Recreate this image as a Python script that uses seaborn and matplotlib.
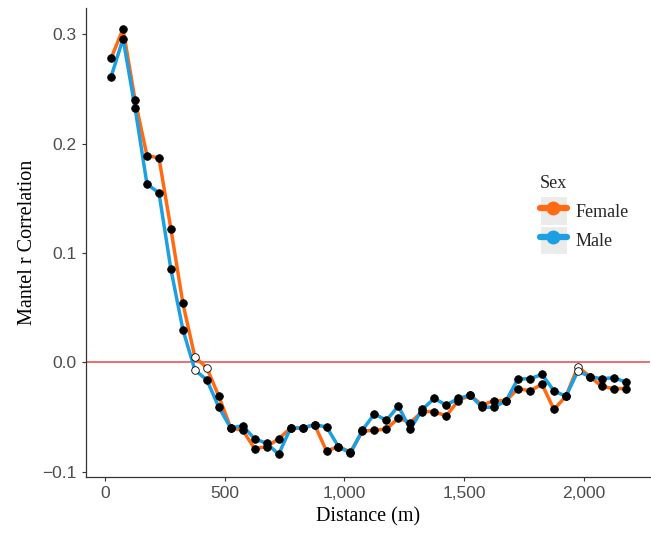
import matplotlib
matplotlib.use("Agg")
import matplotlib.pyplot as plt
import matplotlib.ticker as mticker
from matplotlib.legend_handler import HandlerLine2D
from matplotlib.lines import Line2D
from matplotlib.patches import Rectangle
import pandas as pd
import seaborn as sns

# Mantel correlogram values
distance = [25, 75, 125, 175, 225, 275, 325, 375, 425, 475, 525, 575, 625, 675, 725,
            775, 825, 875, 925, 975, 1025, 1075, 1125, 1175, 1225, 1275, 1325, 1375,
            1425, 1475, 1525, 1575, 1625, 1675, 1725, 1775, 1825, 1875, 1925, 1975,
            2025, 2075, 2125, 2175]
female_r = [0.278, 0.305, 0.240, 0.189, 0.187, 0.122, 0.054, 0.005, -0.005, -0.031,
            -0.060, -0.062, -0.079, -0.077, -0.070, -0.060, -0.060, -0.057, -0.081,
            -0.077, -0.082, -0.063, -0.062, -0.061, -0.051, -0.055, -0.045, -0.045,
            -0.049, -0.035, -0.030, -0.039, -0.035, -0.035, -0.024, -0.026, -0.020,
            -0.043, -0.031, -0.004, -0.013, -0.022, -0.024, -0.024]
male_r = [0.261, 0.296, 0.233, 0.163, 0.155, 0.085, 0.030, -0.007, -0.016, -0.041,
          -0.060, -0.058, -0.070, -0.074, -0.084, -0.060, -0.060, -0.057, -0.059,
          -0.077, -0.083, -0.062, -0.047, -0.053, -0.040, -0.061, -0.043, -0.033,
          -0.039, -0.033, -0.030, -0.041, -0.041, -0.035, -0.015, -0.015, -0.011,
          -0.026, -0.031, -0.008, -0.013, -0.015, -0.014, -0.018]
# distances where the Mantel r was not significant (open points)
female_ns = [375, 425, 1975]
male_ns = [375, 1975]

sex_colors = {"Female": "#FF6A13", "Male": "#1C9FE3"}

df = pd.concat([
    pd.DataFrame({"distance": distance, "r": female_r, "sex": "Female",
                  "sig": [d not in female_ns for d in distance]}),
    pd.DataFrame({"distance": distance, "r": male_r, "sex": "Male",
                  "sig": [d not in male_ns for d in distance]}),
], ignore_index=True)

sns.set_theme(style="ticks")
plt.rcParams["font.family"] = ["Liberation Sans", "DejaVu Sans"]

fig = plt.figure(figsize=(6.51, 5.35), dpi=100)
ax = fig.add_axes([0.132, 0.108, 0.866, 0.877])

ax.axhline(0, color="#E8474A", lw=1.1, zorder=1.5)
sns.lineplot(data=df, x="distance", y="r", hue="sex", hue_order=["Female", "Male"],
             palette=sex_colors, lw=2.5, legend=False, ax=ax, zorder=2)
for sig, face in [(True, "black"), (False, "white")]:
    sub = df[df["sig"] == sig]
    sns.scatterplot(data=sub, x="distance", y="r", color=face, edgecolor="black",
                    linewidth=0.6, s=30, legend=False, ax=ax, zorder=3)

ax.set_xlim(-80, 2275)
ax.set_ylim(-0.105, 0.324)
ax.set_xticks([0, 500, 1000, 1500, 2000])
ax.set_yticks([-0.1, 0.0, 0.1, 0.2, 0.3])
ax.xaxis.set_major_formatter(mticker.FuncFormatter(lambda v, p: f"{v:,.0f}"))
ax.yaxis.set_major_formatter(mticker.FuncFormatter(lambda v, p: f"{v:.1f}".replace("-", "\u2212")))
ax.tick_params(labelsize=12.5, colors="#333333", labelcolor="#4D4D4D", length=3, width=0.8)
for side in ["top", "right"]:
    ax.spines[side].set_visible(False)
for side in ["left", "bottom"]:
    ax.spines[side].set_color("#333333")
    ax.spines[side].set_linewidth(0.9)

ax.set_xlabel("Distance (m)", family=["Liberation Serif"], fontsize=14.5, color="black")
ax.set_ylabel("Mantel r Correlation", family=["Liberation Serif"], fontsize=14.5, color="black")


class KeyHandler(HandlerLine2D):
    # ggplot-style key: grey square behind line + point
    def create_artists(self, legend, orig_handle, xdescent, ydescent, width, height,
                       fontsize, trans):
        bg = Rectangle((-xdescent, -ydescent - 0.15 * height), width, height * 1.3,
                       facecolor="#EBEBEB", edgecolor="white", lw=0.8, transform=trans)
        arts = super().create_artists(legend, orig_handle, xdescent, ydescent, width,
                                      height, fontsize, trans)
        return [bg] + arts


handles = [Line2D([], [], color=sex_colors[s], lw=4.5, marker="o", ms=9) for s in ["Female", "Male"]]
leg = fig.legend(handles, ["Female", "Male"], title="Sex", loc="upper left",
                 bbox_to_anchor=(0.815, 0.689), frameon=False,
                 title_fontsize=13, handlelength=1.5, handleheight=1.5,
                 handletextpad=0.5, labelspacing=0.4, borderpad=0, alignment="left",
                 handler_map={Line2D: KeyHandler(numpoints=1)},
                 prop={"family": "Liberation Serif", "size": 13})
leg.get_title().set_family("Liberation Serif")

fig.savefig("out.png", dpi=100)
